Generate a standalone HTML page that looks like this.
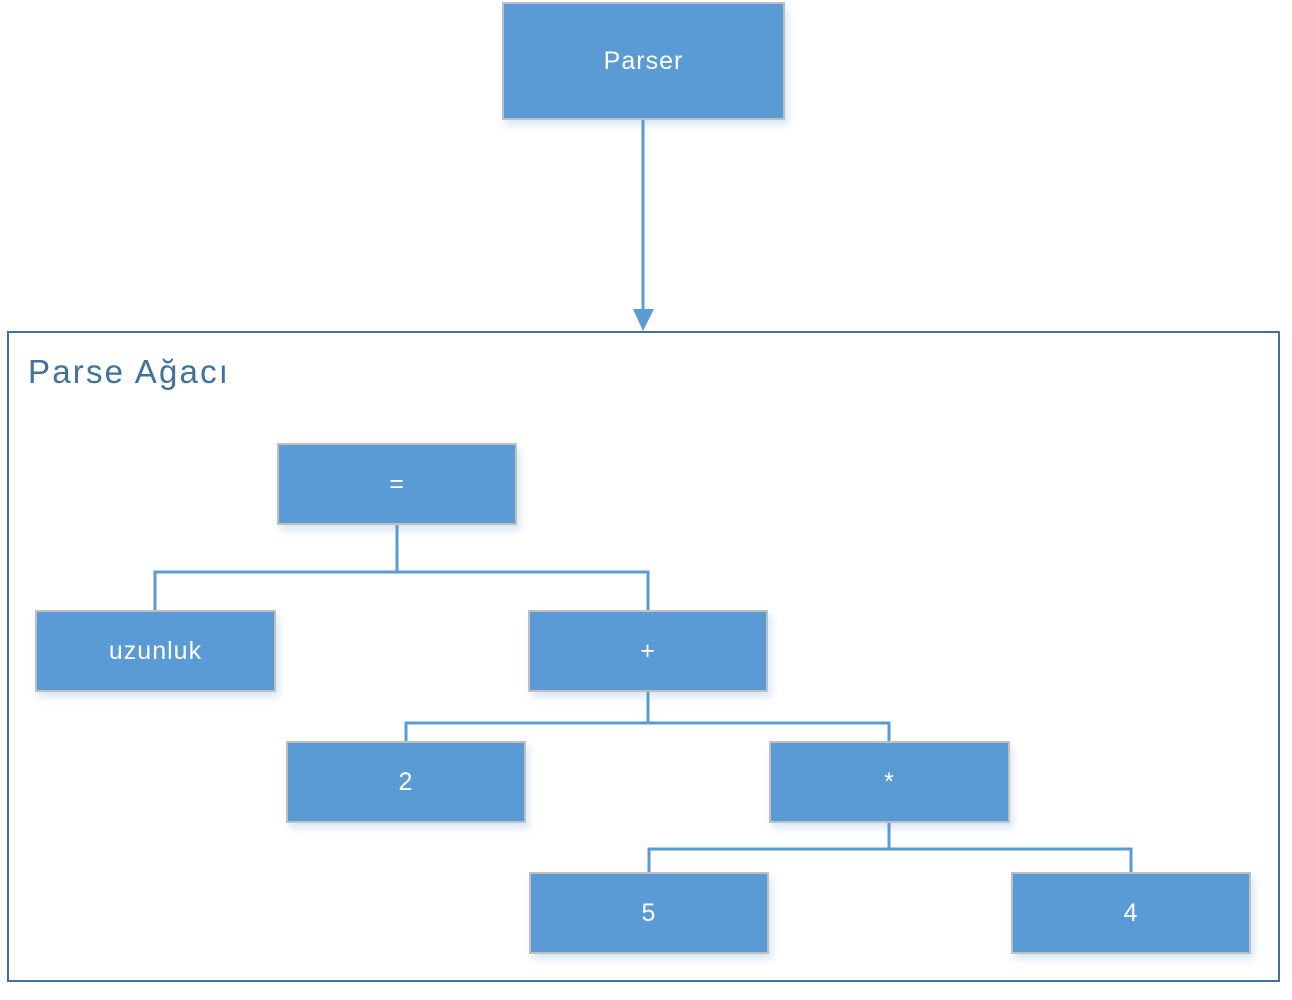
<!DOCTYPE html>
<html><head><meta charset="utf-8"><style>
body{margin:0;width:1292px;height:1000px;background:#fff;position:relative;overflow:hidden;font-family:"Liberation Sans","DejaVu Sans",sans-serif}
.b{position:absolute;background:#5b9bd5;border:2px solid #bfbfbf;box-sizing:border-box;color:#fff;display:flex;align-items:center;justify-content:center;font-size:25px;letter-spacing:1px;box-shadow:3px 5px 8px rgba(91,155,213,0.25)}
svg{position:absolute;left:0;top:0}
</style></head><body>
<div style="position:absolute;left:7px;top:331px;width:1273px;height:651px;border:2px solid #41719c;box-sizing:border-box"></div>
<div style="position:absolute;left:28px;top:353px;font-size:33px;color:#41719c;letter-spacing:2.2px">Parse Ağacı</div>
<svg width="1292" height="1000">
<g stroke="#5b9bd5" stroke-width="3" fill="none">
<line x1="643" y1="119" x2="643" y2="312"/>
<polyline points="397,525 397,572"/>
<polyline points="155,610 155,572 648,572 648,610"/>
<polyline points="648,692 648,723"/>
<polyline points="406,741 406,723 889,723 889,741"/>
<polyline points="889,823 889,849"/>
<polyline points="649,872 649,849 1131,849 1131,872"/>
</g>
<polygon points="633,309 654,309 643,331" fill="#5b9bd5"/>
</svg>
<div class="b" style="left:502px;top:2px;width:283px;height:118px">Parser</div>
<div class="b" style="left:277px;top:443px;width:240px;height:82px">=</div>
<div class="b" style="left:35px;top:610px;width:241px;height:82px">uzunluk</div>
<div class="b" style="left:528px;top:610px;width:240px;height:82px">+</div>
<div class="b" style="left:286px;top:741px;width:240px;height:82px">2</div>
<div class="b" style="left:769px;top:741px;width:241px;height:82px">*</div>
<div class="b" style="left:529px;top:872px;width:240px;height:82px">5</div>
<div class="b" style="left:1011px;top:872px;width:240px;height:82px">4</div>
</body></html>
